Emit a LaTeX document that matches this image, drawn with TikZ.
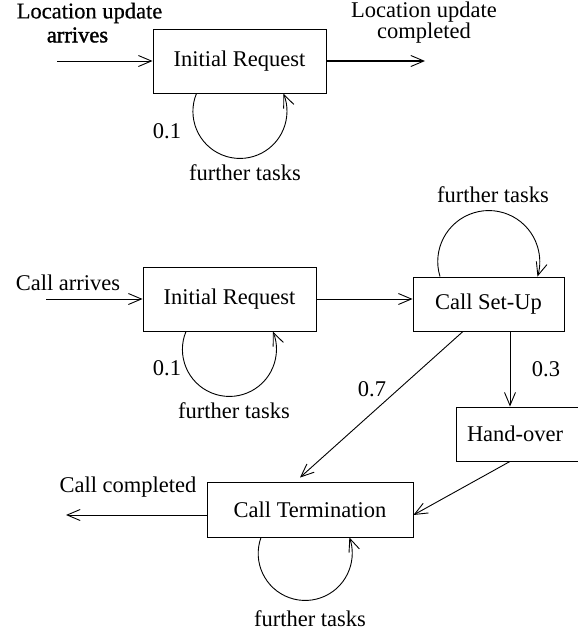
\documentclass[tikz,border=0pt]{standalone}
\usepackage{fontspec}
\setmainfont{Liberation Serif}
\newfontfamily\semibolda[FakeBold=0.5]{Liberation Serif}
\newfontfamily\semiboldb[FakeBold=1.6]{Liberation Serif}
\usetikzlibrary{arrows.meta}
\begin{document}
\begin{tikzpicture}[x=1pt,y=1pt,
  every node/.style={font=\fontsize{22.5}{21}\selectfont, inner sep=0pt},
  box/.style={draw, line width=0.9pt, minimum width=#1},
  conn/.style={line width=0.9pt, -{Straight Barb[length=13pt,width=11pt,line width=0.9pt]}},
  lbl/.style={align=center}]
\useasboundingbox (0,0) rectangle (578,-633);
\fill[white] (0,0) rectangle (578,-633);

% top part
\node[box=173pt, minimum height=64pt] (ir1) at (239.5,-61) {Initial Request};
\coordinate (in1) at (57,-61);
\coordinate (out1) at (425,-61);
\draw[conn] (in1) -- (ir1.west);
\draw[conn, line width=1.6pt] (ir1.east) -- (out1);
\node[lbl] at (89.5,-13) {\semibolda Location update};
\node[lbl] at (77.5,-35) {\semiboldb arrives};
\node[lbl] at (424,-23) {Location update\\completed};
\draw[conn] ([xshift=-43pt]ir1.south) arc[start angle=157.5, end angle=382.5, radius=47pt];
\node at (167,-131) {0.1};
\node at (245,-173) {further tasks};

% bottom part
\node[box=173pt, minimum height=64pt] (ir2) at (229.5,-299) {Initial Request};
\node[box=151pt, minimum height=54pt] (su) at (488.5,-304) {Call Set-Up};
\node[draw, line width=0.9pt, minimum width=124pt, minimum height=54pt, text width=124pt, align=left] (ho) at (518,-434) {\hspace*{11pt}Hand-over};
\node[box=206pt, minimum height=55pt] (ct) at (310,-509.5) {Call Termination};

\coordinate (in2) at (46,-299);
\coordinate (out2) at (66,-515);
\draw[conn] (in2) -- (ir2.west);
\node at (68,-283) {Call arrives};
\draw[conn] (ir2.east) -- (ir2.east -| su.west);
\draw[conn] ([xshift=-43.5pt]ir2.south) arc[start angle=157.5, end angle=382.5, radius=47pt];
\node at (167,-368) {0.1};
\node at (234,-411) {further tasks};

\draw[conn] ([xshift=-48.5pt]su.north) arc[start angle=197.1, end angle=-17.1, radius=51pt];
\node at (493,-195) {further tasks};

\draw[conn] ([xshift=-8pt]ho.north |- su.south) -- ([xshift=-8pt]ho.north);
\node at (546,-369) {0.3};
\draw[conn] ([xshift=-25.5pt]su.south) -- ([xshift=-10pt,yshift=4pt]ct.north);
\node at (372,-389) {0.7};
\draw[conn] ([xshift=-8pt]ho.south) -- ([yshift=-5.5pt]ct.east);

\draw[conn] ([yshift=-5.5pt]ct.west) -- (out2);
\node at (128,-487) {Call completed};
\draw[conn] ([xshift=-49pt]ct.south) arc[start angle=160.1, end angle=379.9, radius=47pt];
\node at (310,-619) {further tasks};
\end{tikzpicture}
\end{document}
